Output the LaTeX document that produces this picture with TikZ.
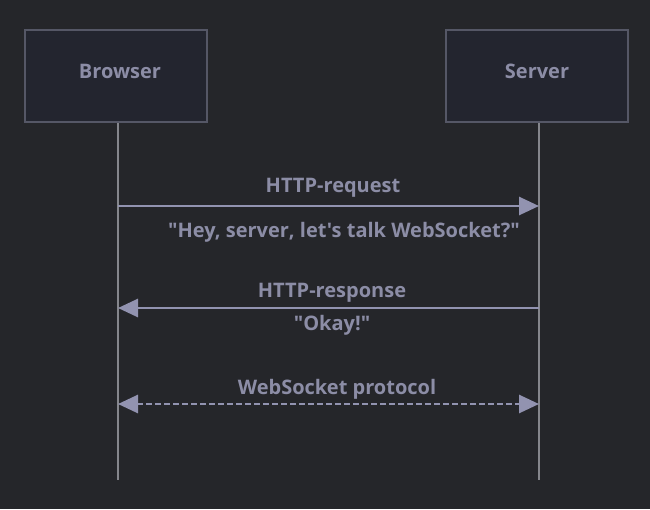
\documentclass[tikz,border=0pt]{standalone}
\usepackage{fontspec}
\setmainfont{Open Sans}[Ligatures=TeXOff]
\usetikzlibrary{arrows.meta}
\definecolor{bg}{HTML}{25262A}
\definecolor{boxfill}{HTML}{23252F}
\definecolor{boxline}{HTML}{555766}
\definecolor{txt}{HTML}{8C8DA6}
\definecolor{arr}{HTML}{9293B0}
\definecolor{life}{HTML}{85868C}
\begin{document}
\begin{tikzpicture}[x=1pt,y=-1pt,
  actor/.style={draw=boxline,line width=2pt,fill=boxfill,minimum width=182pt,minimum height=92pt},
  lifeline/.style={draw=life,line width=1.3pt},
  msg/.style={draw=arr,line width=2.8pt,-{Triangle[length=20pt,width=18pt]}},
  dmsg/.style={draw=arr,line width=2.8pt,dash pattern=on 6pt off 3pt,{Triangle[length=20pt,width=18pt]}-{Triangle[length=20pt,width=18pt]}},
  lbl/.style={text=txt,font=\fontsize{20}{24}\selectfont\bfseries,inner sep=0pt}]
\fill[bg] (0,0) rectangle (650,509);
\useasboundingbox (0,0) rectangle (650,509);
\node[actor] (browser) at (116,76) {};
\node[actor] (server) at (537,76) {};
\node[lbl] (bt) at (120,71) {Browser};
\node[lbl] (st) at (537,71) {Server};
\coordinate (bend) at (118,480);
\coordinate (send) at (539,480);
\draw[lifeline] (browser.south -| bend) -- (bend);
\draw[lifeline] (server.south -| send) -- (send);
\coordinate (b1) at (118,206); \coordinate (s1) at (539,206);
\coordinate (b2) at (118,308); \coordinate (s2) at (539,308);
\coordinate (b3) at (118,404); \coordinate (s3) at (539,404);
\draw[msg] (b1) -- (s1);
\draw[msg] (s2) -- (b2);
\draw[dmsg] (b3) -- (s3);
\node[lbl] (l1) at (333,188) {HTTP-request};
\node[lbl] (l1b) at (344,232) {"Hey, server, let's talk WebSocket?"};
\node[lbl] (l2) at (332,293) {HTTP-response};
\node[lbl] (l2b) at (332,325) {"Okay!"};
\node[lbl] (l3) at (337,389) {WebSocket protocol};
\end{tikzpicture}
\end{document}
